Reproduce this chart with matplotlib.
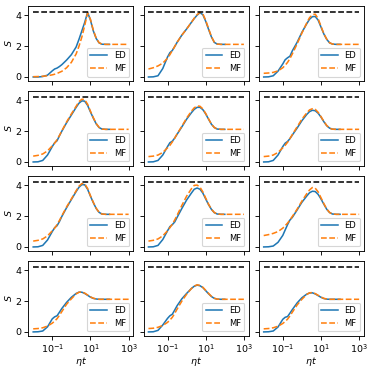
import matplotlib
matplotlib.use("Agg")
import matplotlib.pyplot as plt

# time grid (eta*t)
t_ed = [0.01, 0.0178, 0.0316, 0.0562, 0.1, 0.133, 0.178, 0.237, 0.316, 0.562,
        1.0, 1.78, 2.51, 3.55, 5.01, 7.08, 10.0, 14.1, 20.0, 28.2, 39.8, 63.1, 100.0]
t_mf = t_ed + [316.0, 1000.0]

s_max = 4.25
t_max = [0.01, 1000.0]

# row 1
ed_11 = [0.0, 0.0, 0.03, 0.12, 0.4, 0.52, 0.58, 0.68, 0.8, 1.1, 1.45, 1.95, 2.45, 3.0, 3.55, 4.2,
         3.7, 3.0, 2.5, 2.22, 2.13, 2.12, 2.12]
mf_11 = [0.02, 0.03, 0.05, 0.08, 0.14, 0.18, 0.23, 0.3, 0.37, 0.6, 0.95, 1.5, 2.0, 2.6, 3.35, 4.15,
         3.75, 3.05, 2.52, 2.23, 2.14, 2.12, 2.12, 2.12, 2.12]
ed_12 = [0.0, 0.01, 0.08, 0.55, 1.3, 1.58, 1.72, 1.98, 2.25, 2.72, 3.12, 3.55, 3.8, 4.02, 4.18, 4.05,
         3.62, 3.1, 2.6, 2.25, 2.14, 2.12, 2.12]
mf_12 = [0.52, 0.6, 0.72, 0.9, 1.22, 1.45, 1.72, 1.98, 2.25, 2.72, 3.12, 3.55, 3.82, 4.05, 4.2, 4.1,
         3.68, 3.15, 2.62, 2.26, 2.14, 2.12, 2.12, 2.12, 2.12]
ed_13 = [0.0, 0.01, 0.08, 0.38, 0.85, 1.12, 1.25, 1.35, 1.7, 2.25, 2.9, 3.45, 3.75, 3.92, 3.93, 3.7,
         3.25, 2.8, 2.45, 2.22, 2.14, 2.12, 2.12]
mf_13 = [0.24, 0.26, 0.3, 0.4, 0.6, 0.76, 0.95, 1.2, 1.5, 2.15, 2.85, 3.5, 3.85, 4.05, 4.08, 3.8,
         3.3, 2.82, 2.46, 2.23, 2.14, 2.12, 2.12, 2.12, 2.12]

# row 2
ed_21 = [0.0, 0.01, 0.1, 0.45, 1.0, 1.25, 1.38, 1.7, 2.0, 2.55, 3.05, 3.55, 3.82, 3.97, 3.95, 3.68,
         3.25, 2.85, 2.48, 2.24, 2.14, 2.12, 2.12]
mf_21 = [0.38, 0.43, 0.52, 0.72, 1.05, 1.22, 1.45, 1.72, 2.02, 2.6, 3.12, 3.62, 3.92, 4.08, 4.05, 3.75,
         3.3, 2.88, 2.5, 2.25, 2.14, 2.12, 2.12, 2.12, 2.12]
ed_22 = [0.0, 0.01, 0.1, 0.45, 1.0, 1.25, 1.35, 1.55, 1.8, 2.28, 2.78, 3.2, 3.42, 3.55, 3.55, 3.4,
         3.12, 2.78, 2.45, 2.24, 2.14, 2.12, 2.12]
mf_22 = [0.35, 0.38, 0.45, 0.62, 0.92, 1.08, 1.3, 1.55, 1.82, 2.32, 2.85, 3.3, 3.52, 3.64, 3.62, 3.45,
         3.15, 2.8, 2.46, 2.24, 2.14, 2.12, 2.12, 2.12, 2.12]
ed_23 = [0.0, 0.01, 0.1, 0.45, 1.0, 1.22, 1.33, 1.52, 1.75, 2.2, 2.68, 3.08, 3.27, 3.36, 3.33, 3.17,
         2.92, 2.62, 2.36, 2.2, 2.13, 2.12, 2.12]
mf_23 = [0.35, 0.38, 0.45, 0.62, 0.92, 1.08, 1.28, 1.52, 1.78, 2.28, 2.78, 3.18, 3.38, 3.46, 3.42, 3.23,
         2.95, 2.64, 2.37, 2.2, 2.13, 2.12, 2.12, 2.12, 2.12]

# row 3
ed_31 = [0.0, 0.01, 0.1, 0.45, 1.0, 1.25, 1.38, 1.65, 1.98, 2.55, 3.08, 3.6, 3.88, 4.05, 4.04, 3.75,
         3.3, 2.88, 2.5, 2.25, 2.14, 2.12, 2.12]
mf_31 = [0.38, 0.43, 0.52, 0.72, 1.05, 1.22, 1.45, 1.72, 2.02, 2.6, 3.12, 3.65, 3.95, 4.12, 4.1, 3.8,
         3.33, 2.9, 2.51, 2.25, 2.14, 2.12, 2.12, 2.12, 2.12]
ed_32 = [0.0, 0.01, 0.1, 0.48, 1.05, 1.32, 1.45, 1.62, 1.92, 2.5, 3.05, 3.5, 3.75, 3.83, 3.75, 3.5,
         3.12, 2.75, 2.44, 2.23, 2.14, 2.12, 2.12]
mf_32 = [0.38, 0.43, 0.52, 0.72, 1.05, 1.25, 1.48, 1.75, 2.05, 2.7, 3.3, 3.78, 4.0, 4.02, 3.88, 3.58,
         3.17, 2.78, 2.45, 2.24, 2.14, 2.12, 2.12, 2.12, 2.12]
ed_33 = [0.0, 0.01, 0.06, 0.3, 0.75, 1.1, 1.45, 1.75, 1.92, 2.4, 2.9, 3.3, 3.52, 3.62, 3.6, 3.42,
         3.12, 2.78, 2.45, 2.24, 2.14, 2.12, 2.12]
mf_33 = [0.74, 0.8, 0.88, 1.0, 1.22, 1.38, 1.55, 1.76, 1.98, 2.45, 2.98, 3.45, 3.7, 3.86, 3.82, 3.58,
         3.2, 2.82, 2.47, 2.24, 2.14, 2.12, 2.12, 2.12, 2.12]

# row 4
ed_41 = [0.0, 0.01, 0.06, 0.33, 0.85, 0.98, 1.05, 1.28, 1.52, 1.92, 2.25, 2.5, 2.58, 2.58, 2.5, 2.38,
         2.26, 2.18, 2.14, 2.12, 2.12, 2.12, 2.12]
mf_41 = [0.2, 0.22, 0.27, 0.38, 0.57, 0.7, 0.86, 1.08, 1.32, 1.8, 2.15, 2.47, 2.58, 2.6, 2.52, 2.4,
         2.28, 2.19, 2.14, 2.12, 2.12, 2.12, 2.12, 2.12, 2.12]
ed_42 = [0.0, 0.01, 0.1, 0.45, 0.88, 1.05, 1.15, 1.42, 1.7, 2.15, 2.5, 2.82, 2.97, 3.04, 3.0, 2.88,
         2.68, 2.48, 2.3, 2.18, 2.13, 2.12, 2.12]
mf_42 = [0.22, 0.24, 0.3, 0.42, 0.62, 0.77, 0.95, 1.2, 1.48, 2.0, 2.45, 2.82, 2.98, 3.06, 3.02, 2.9,
         2.7, 2.5, 2.31, 2.19, 2.13, 2.12, 2.12, 2.12, 2.12]
ed_43 = [0.0, 0.01, 0.06, 0.32, 0.82, 0.95, 1.0, 1.22, 1.45, 1.88, 2.22, 2.45, 2.53, 2.54, 2.47, 2.36,
         2.25, 2.17, 2.13, 2.12, 2.12, 2.12, 2.12]
mf_43 = [0.2, 0.22, 0.27, 0.37, 0.55, 0.68, 0.83, 1.04, 1.28, 1.75, 2.12, 2.43, 2.54, 2.56, 2.49, 2.38,
         2.27, 2.18, 2.14, 2.12, 2.12, 2.12, 2.12, 2.12, 2.12]

ed_rows = [[ed_11, ed_12, ed_13], [ed_21, ed_22, ed_23],
           [ed_31, ed_32, ed_33], [ed_41, ed_42, ed_43]]
mf_rows = [[mf_11, mf_12, mf_13], [mf_21, mf_22, mf_23],
           [mf_31, mf_32, mf_33], [mf_41, mf_42, mf_43]]

fig, axes = plt.subplots(4, 3, figsize=(4.675, 4.6), dpi=80, sharex=True, sharey=True)
fig.subplots_adjust(left=0.076, right=0.973, top=0.984, bottom=0.088, wspace=0.098, hspace=0.136)

for i in range(4):
    for j in range(3):
        ax = axes[i, j]
        ax.plot(t_ed, ed_rows[i][j], "-", color="C0", lw=1.4, label="ED")
        ax.plot(t_mf, mf_rows[i][j], "--", color="C1", lw=1.4, label="MF")
        ax.plot(t_max, [s_max, s_max], "k--", lw=1.4)
        ax.set_xscale("log")
        ax.tick_params(labelsize=8.5, pad=2.5)
        ax.legend(loc="lower right", fontsize=7.5)
        if j == 0:
            ax.set_ylabel("$S$", fontsize=8.5, labelpad=2)
        if i == 3:
            ax.set_xlabel(r"$\eta t$", fontsize=8.5, labelpad=0)

axes[0, 0].set_ylim(-0.24, 4.62)
axes[0, 0].set_xticks([1e-1, 1e1, 1e3])

fig.savefig("out.png")
